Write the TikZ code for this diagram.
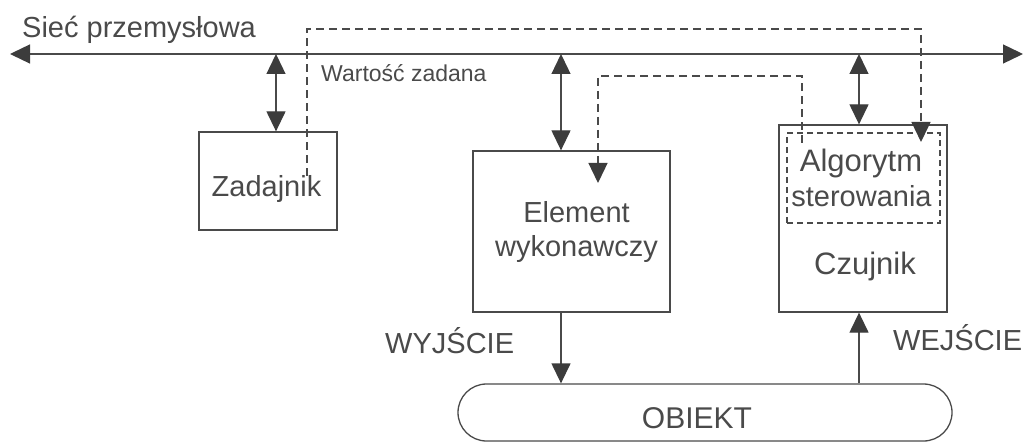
\documentclass[tikz,border=0pt]{standalone}
\usepackage{fontspec}
\setmainfont{Liberation Sans}
\usetikzlibrary{arrows.meta}
\definecolor{ink}{HTML}{4A4A4A}
\definecolor{tipink}{HTML}{3C3C3C}
\begin{document}
\begin{tikzpicture}[x=1pt,y=-1pt,
  txt/.style={text=ink, inner sep=0pt, font=\fontsize{29}{34}\selectfont, align=center},
  big/.style={txt, font=\fontsize{31}{34}\selectfont},
  small/.style={text=ink, inner sep=0pt, font=\fontsize{23}{28}\selectfont},
  box/.style={draw=ink, line width=1.3pt, inner sep=0pt},
  tip/.tip={Triangle[width=19pt,length=20pt,color=tipink]},
  link/.style={draw=ink, line width=1.3pt, -tip},
  both/.style={draw=ink, line width=1.3pt, tip-tip},
  dashlink/.style={link, dash pattern=on 8pt off 5pt},
]
\useasboundingbox (0,0) rectangle (1024,443);

% boxes
\node[box, minimum width=138pt, minimum height=98pt] (zad) at (268,181) {};
\node[box, minimum width=197pt, minimum height=161pt] (elem) at (571.5,231.5) {};
\node[box, minimum width=168pt, minimum height=187pt] (czuj) at (863,218.5) {};
\node[box, line width=1.1pt, dash pattern=on 6pt off 4pt,
      minimum width=153pt, minimum height=90pt] (alg) at (863.5,178) {};
\node[box, rounded corners=28.5pt, minimum width=494pt, minimum height=57pt] (obj) at (705,412.5) {};

% texts
\node[txt, anchor=base] (zadt) at (266.5,197) {Zadajnik};
\node[txt, anchor=base] (elemt1) at (576.5,223) {Element};
\node[txt, anchor=base] (elemt2) at (576.5,257) {wykonawczy};
\node[big, anchor=base] (algt1) at (861,172) {Algorytm};
\node[txt, anchor=base] (algt2) at (861.5,207) {sterowania};
\node[big, anchor=base] (czujt) at (865,275) {Czujnik};
\node[txt, anchor=base, font=\fontsize{30}{34}\selectfont] (objt) at (697,428) {OBIEKT};
\node[txt, anchor=base west] (siec) at (22,38) {Sieć przemysłowa};
\node[small, anchor=base west] (wz) at (321,82) {Wartość zadana};
\node[txt, anchor=base west] (wyj) at (385,353) {WYJŚCIE};
\node[txt, anchor=base west] (wej) at (893,350) {WEJŚCIE};

% industrial network bus
\coordinate (busL) at (10,54);
\coordinate (busR) at (1023,54);
\draw[both] (busL) -- (busR);

% taps on the bus
\coordinate (t1) at (276,54);
\coordinate (t2) at (561,54);
\coordinate (t3) at (859,54);
\draw[both] (t1) -- (t1 |- zad.north);
\draw[both] (t2) -- (t2 |- elem.north);
\draw[both] (t3) -- (t3 |- czuj.north);

% process signals
\draw[link] (t2 |- elem.south) -- (t2 |- obj.north);
\draw[link] (t3 |- obj.north) -- (t3 |- czuj.south);

% set-point path (dashed)
\coordinate (a0) at (307,176);
\coordinate (a1) at (307,29);
\coordinate (a2) at (921,29);
\coordinate (a3) at (921,142);
\draw[dashlink] (a0) -- (a1) -- (a2) -- (a3);

% control output path (dashed)
\coordinate (b0) at (802,143);
\coordinate (b1) at (802,76);
\coordinate (b2) at (598,76);
\coordinate (b3) at (598,183);
\draw[dashlink] (b0) -- (b1) -- (b2) -- (b3);
\end{tikzpicture}
\end{document}
